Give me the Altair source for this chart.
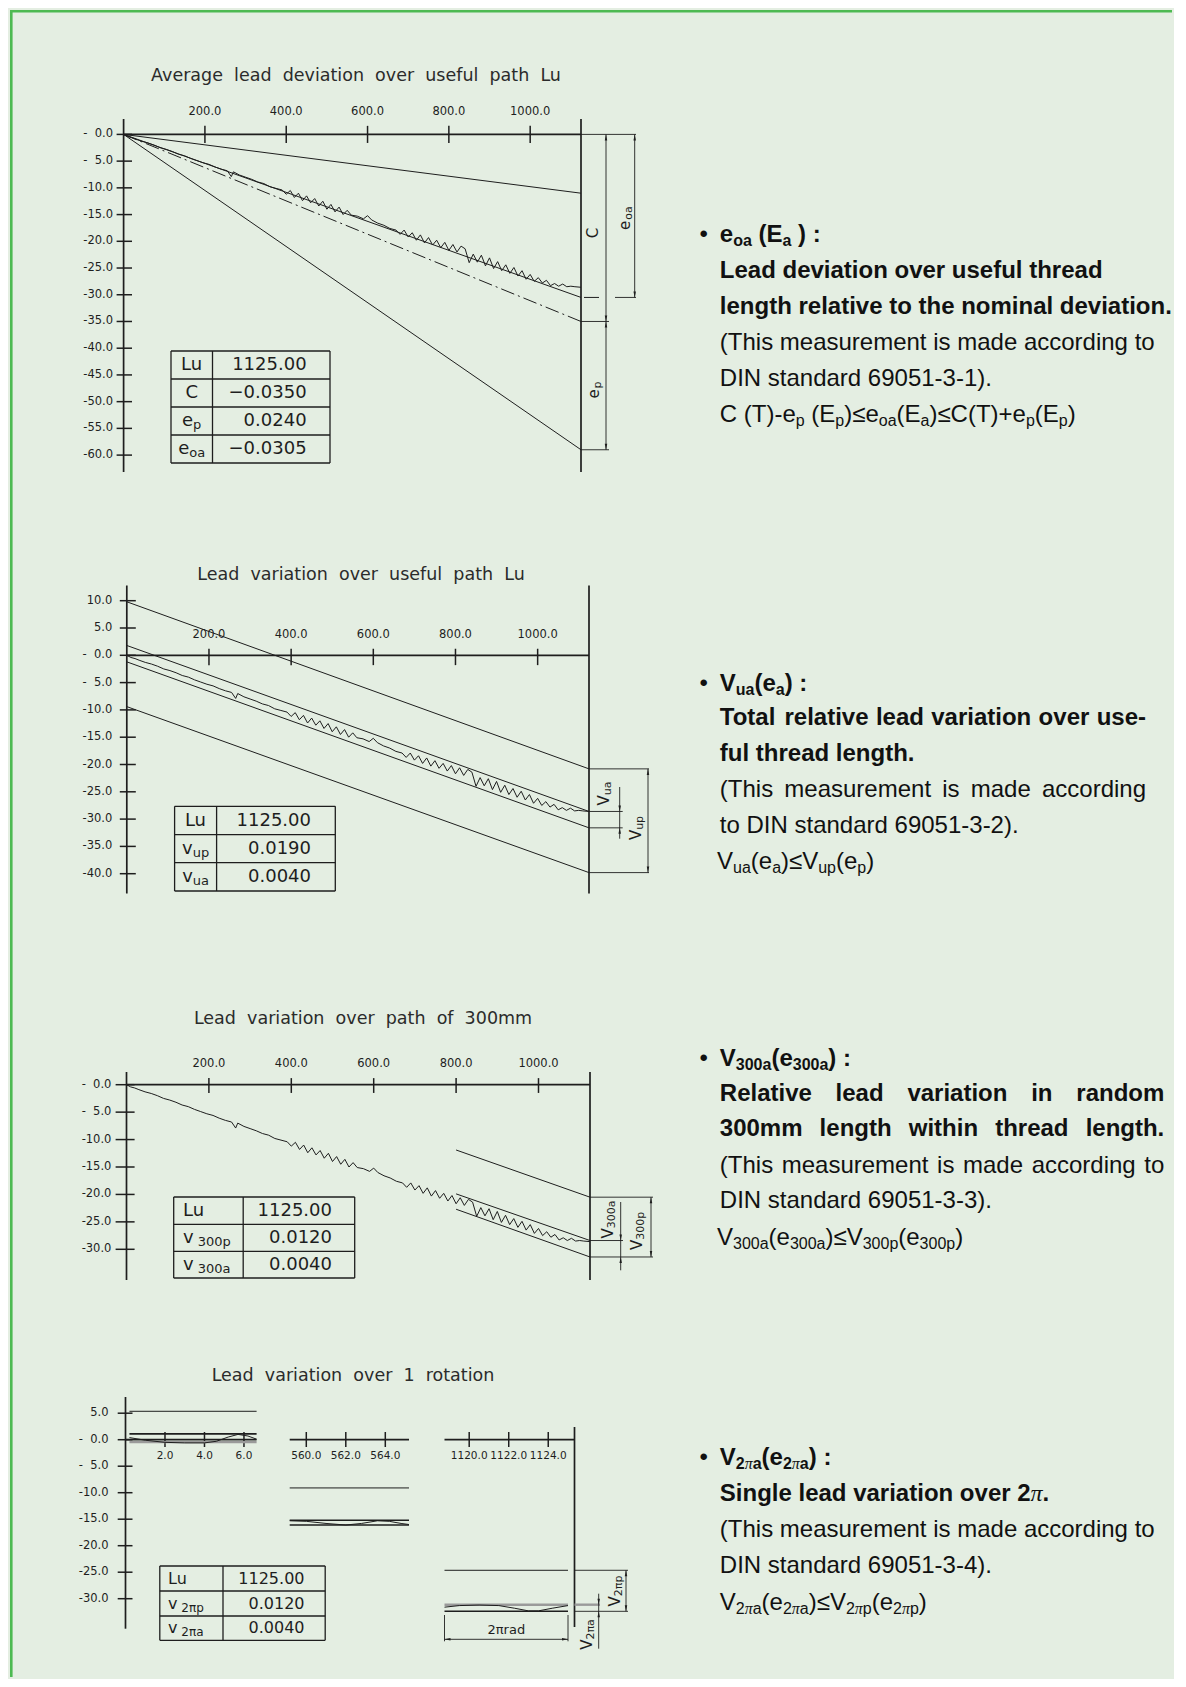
import altair as alt
import pandas as pd

# ---------------------------------------------------------------
# DATA
# ---------------------------------------------------------------
LU = 1125.0  # useful path, mm

# measured cumulative lead deviation (µm) over the thread (mm)
MEAS_X = [0, 10, 20, 30, 45, 60, 75, 90, 105, 120,
          135, 150, 165, 180, 195, 210, 225, 240, 255, 265,
          270, 285, 300, 315, 330, 345, 360, 375, 390, 400,
          410, 420, 430, 440, 450, 460, 470, 480, 490, 500,
          510, 520, 530, 540, 550, 560, 575, 590, 600, 610,
          625, 640, 655, 670, 680, 690, 700, 710, 720, 730,
          740, 750, 760, 770, 780, 790, 800, 810, 820, 830,
          840, 850, 860, 870, 880, 890, 900, 910, 920, 930,
          940, 950, 960, 970, 980, 990, 1000, 1010, 1020, 1030,
          1040, 1050, 1060, 1070, 1080, 1090, 1100, 1110, 1125]
MEAS_Y = [0, -0.4, -0.6, -0.9, -1.3, -1.6, -2.0, -2.5, -2.8, -3.2,
          -3.7, -4.0, -4.5, -4.9, -5.3, -5.6, -6.1, -6.5, -6.8, -7.9,
          -7.0, -7.6, -8.0, -8.4, -8.9, -9.2, -9.8, -10.1, -10.4, -11.2,
          -10.5, -11.8, -11.0, -12.4, -11.5, -12.8, -12.0, -13.4, -12.5, -14.0,
          -13.1, -14.5, -13.6, -15.0, -14.2, -15.1, -15.3, -15.8, -15.2, -16.0,
          -16.6, -17.0, -17.6, -17.9, -18.7, -17.9, -19.2, -18.4, -19.8, -18.8,
          -20.3, -19.3, -20.7, -19.8, -21.2, -20.2, -21.7, -20.6, -22.0, -20.9,
          -21.4, -24.0, -22.4, -23.9, -22.6, -24.6, -23.1, -25.1, -23.8, -25.5,
          -24.4, -26.0, -24.9, -26.5, -25.5, -27.1, -26.2, -27.5, -26.8, -27.8,
          -27.3, -28.3, -27.9, -28.4, -28.0, -28.5, -28.4, -28.5, -28.6]

# Panel 1 : average lead deviation
P1_TITLE = "Average lead deviation over useful path Lu"
P1_C, P1_EP, P1_EOA = -0.0350, 0.0240, -0.0305          # mm
P1_TAB_LABELS = [[("Lu", 0)], [("C", 0)], [("e", 0), ("p", 1)], [("e", 0), ("oa", 1)]]
P1_TAB_VALUES = ["1125.00", "\u22120.0350", "0.0240", "\u22120.0305"]
P1_XTICKS = [200, 400, 600, 800, 1000]
P1_YTICKS = [0, -5, -10, -15, -20, -25, -30, -35, -40, -45, -50, -55, -60]

# Panel 2 : lead variation over useful path
P2_TITLE = "Lead variation over useful path Lu"
P2_LINE_START = [9.8, -9.4, 1.8, -1.2]      # vup upper, vup lower, vua upper, vua lower
P2_LINE_END = [-20.8, -39.8, -28.6, -31.6]
P2_TAB_LABELS = [[("Lu", 0)], [("v", 0), ("up", 1)], [("v", 0), ("ua", 1)]]
P2_TAB_VALUES = ["1125.00", "0.0190", "0.0040"]
P2_XTICKS = [200, 400, 600, 800, 1000]
P2_YTICKS = [10, 5, 0, -5, -10, -15, -20, -25, -30, -35, -40]

# Panel 3 : lead variation over 300 mm
P3_TITLE = "Lead variation over path of 300mm"
P3_WIN_START = 800.0
P3_LINE_START = [-11.9, -19.9, -22.7]       # v300p upper, v300a upper, v300a lower
P3_LINE_END = [-20.5, -28.4, -31.4]
P3_TAB_LABELS = [[("Lu", 0)], [("v", 0), (" 300p", 1)], [("v", 0), (" 300a", 1)]]
P3_TAB_VALUES = ["1125.00", "0.0120", "0.0040"]
P3_XTICKS = [200, 400, 600, 800, 1000]
P3_YTICKS = [0, -5, -10, -15, -20, -25, -30]

# Panel 4 : lead variation over one rotation
P4_TITLE = "Lead variation over 1 rotation"
P4_SEG_START = [0.2, 559.16, 1118.75]
P4_SEG_END = [6.64, 565.2, 1125.0]
P4_TOP = [5.36, -9.1, -24.64]
P4_HI = [1.1, -15.2, -31.13]
P4_LO = [-0.45, -16.1, -32.38]
P4_W1_X = [0.2, 1.0, 2.0, 3.0, 4.0, 4.6, 5.2, 5.7, 6.2, 6.64]
P4_W1_Y = [0.4, -0.1, -0.5, -0.6, -0.6, -0.3, 0.5, 1.0, 0.7, 0.1]
P4_W2_X = [559.16, 560.0, 561.0, 562.0, 562.8, 563.6, 564.2, 564.8, 565.2]
P4_W2_Y = [-15.3, -15.4, -15.8, -16.1, -15.8, -15.3, -15.4, -15.8, -16.0]
P4_W3_X = [1118.75, 1119.5, 1120.5, 1121.5, 1122.3, 1123.0, 1123.5, 1124.2, 1125.0]
P4_W3_Y = [-31.6, -31.3, -31.2, -31.3, -31.8, -32.3, -32.3, -31.8, -31.3]
P4_TAB_LABELS = [[("Lu", 0)], [("v", 0), (" 2\u03c0p", 1)], [("v", 0), (" 2\u03c0a", 1)]]
P4_TAB_VALUES = ["1125.00", "0.0120", "0.0040"]
P4_XTICKS = [2, 4, 6, 560, 562, 564, 1120, 1122, 1124]
P4_YTICKS = [5, 0, -5, -10, -15, -20, -25, -30]

# ---------------------------------------------------------------
# styling / layout
# ---------------------------------------------------------------
BG = "#e4eee2"
BORDER = "#4dba52"
INK = "#1e1e1e"
CAD = "DejaVu Sans"
SANS = "Liberation Sans"
SERIF = "Liberation Serif"

PLOT_W = 672
TEXT_W = 490
ROW_TOP = [8, 505, 935, 1300]
ROW_H = [497, 430, 365, 375]

# glyph widths (1/1000 em)
DJ = {c: 636 for c in "0123456789"}
DJ.update({'.': 318, ' ': 318, '\u00a0': 318, '-': 361, '\u2212': 838, '\u2007': 636,
           'L': 557, 'C': 698, 'V': 684, 'u': 634, 'e': 615, 'p': 635, 'o': 612,
           'a': 613, 'v': 592, 'r': 411, 'd': 635, '\u03c0': 602})

UP = "ABCDEFGHIJKLMNOPQRSTUVWXYZ"
LO = "abcdefghijklmnopqrstuvwxyz"
AR = dict(zip(UP, [667, 667, 722, 722, 667, 611, 778, 722, 278, 500, 667, 556, 833, 722, 778,
                   667, 778, 722, 667, 611, 722, 667, 944, 667, 667, 611]))
AR.update(zip(LO, [556, 556, 500, 556, 556, 278, 556, 556, 222, 222, 500, 222, 833, 556, 556,
                   556, 556, 333, 500, 278, 556, 500, 722, 500, 500, 500]))
AB = dict(zip(UP, [722, 722, 722, 722, 667, 611, 778, 722, 278, 556, 722, 611, 833, 722, 778,
                   667, 778, 722, 667, 611, 722, 667, 944, 667, 667, 611]))
AB.update(zip(LO, [556, 611, 556, 611, 556, 333, 611, 611, 278, 278, 556, 278, 889, 611, 611,
                   611, 611, 389, 556, 333, 611, 556, 778, 556, 556, 500]))
for tab, colon in ((AR, 278), (AB, 333)):
    tab.update({c: 556 for c in "0123456789"})
    tab.update({' ': 278, '\u00a0': 278, '(': 333, ')': 333, '-': 333, '.': 278, ',': 278,
                ':': colon, '+': 584, '\u2264': 549, '\u2022': 350})
TI = {'\u03c0': 500}


def djw(s, size):
    return sum(DJ.get(c, 620) for c in s) * size / 1000.0


def interp(v, xs, ys):
    n = len(xs)
    if v <= xs[0]:
        i = 0
    elif v >= xs[-1]:
        i = n - 2
    else:
        i = 0
        while not (xs[i] <= v <= xs[i + 1]):
            i += 1
    return ys[i] + (v - xs[i]) * (ys[i + 1] - ys[i]) / (xs[i + 1] - xs[i])


def nb(s):
    return s.replace(" ", "\u00a0")


def ylab(v):
    if v > 0:
        return f"{v:.1f}"
    a = abs(v)
    return "-" + ("\u2007" if a < 10 else "") + f"{a:.1f}"


class Panel:
    def __init__(self, xd, xr, yd, yr, top, h, tab_size, tab_sub, xt_size=11.5):
        self.xd, self.xr, self.yd, self.yr = xd, xr, yd, yr
        self.top, self.h = top, h
        self.tab_size, self.tab_sub, self.xt_size = tab_size, tab_sub, xt_size
        self.rules, self.arrows, self.texts, self.curves = [], [], [], []

    def X(self, p):
        return interp(p, self.xr, self.xd)

    def Y(self, p):
        return interp(p, self.yr, self.yd)

    def rule(self, x, y, x2, y2, k="thin"):
        self.rules.append(dict(x=x, y=y, x2=x2, y2=y2, k=k))

    def arrow(self, x, y, d):
        self.arrows.append(dict(x=x, y=y, d=d))

    def text(self, x, y, t, k):
        self.texts.append(dict(x=x, y=y, t=nb(t), k=k))

    def curve(self, xs, ys, name):
        for i, (a, b) in enumerate(zip(xs, ys)):
            self.curves.append(dict(x=a, y=b, s=name, o=i))


def axes(P, xticks, yticks, ax_top, ax_bot, yt0, yt1, xt_hi, xt_lo, ylab_right, xlab_y,
         xsegs, right_x, right_top, right_bot):
    for a, b in xsegs:
        P.rule(a, 0, b, 0, "axis")
    P.rule(0, P.Y(ax_top), 0, P.Y(ax_bot), "axis")
    P.rule(right_x, P.Y(right_top), right_x, P.Y(right_bot), "axis")
    for t in xticks:
        P.rule(t, xt_hi, t, xt_lo, "tick")
        P.text(t, P.Y(xlab_y), f"{t:.1f}", "xt")
    for v in yticks:
        P.rule(P.X(yt0), v, P.X(yt1), v, "tick")
        P.text(P.X(ylab_right), v, ylab(v), "yt")


def title(P, cx, cy, s):
    P.text(P.X(cx), P.Y(cy), s.replace(" ", "\u00a0\u00a0"), "title")


def table(P, xl, xdiv, xr, ys, labels, values, mode, lab_x, val_x):
    for yy in ys:
        P.rule(P.X(xl), P.Y(yy), P.X(xr), P.Y(yy), "tab")
    for xx in (xl, xdiv, xr):
        P.rule(P.X(xx), P.Y(ys[0]), P.X(xx), P.Y(ys[-1]), "tab")
    for i, (lab, val) in enumerate(zip(labels, values)):
        yc = (ys[i] + ys[i + 1]) / 2
        ws = [djw(t, P.tab_sub if s else P.tab_size) for t, s in lab]
        x = lab_x - sum(ws) / 2 if mode == "c" else lab_x
        for (t, s), w in zip(lab, ws):
            size = P.tab_sub if s else P.tab_size
            lead = len(t) - len(t.lstrip(" "))
            P.text(P.X(x + djw(" " * lead, size)), P.Y(yc + (4 if s else 0)), t.strip(" "),
                   "tabs" if s else "tab")
            x += w
        P.text(P.X(val_x), P.Y(yc), val, "val")


def rot_label(P, cx, cy, segs, size=15, sub=11):
    ws = [djw(t, sub if s else size) for t, s in segs]
    yb = cy + sum(ws) / 2
    acc = 0
    for (t, s), w in zip(segs, ws):
        yc = yb - acc - w / 2
        xc = cx + (3 if s else -1)
        P.text(P.X(xc), P.Y(yc), t, "dims" if s else "dim")
        acc += w


def vdim(P, x, y_from, y_to):
    """dimension line between two values with inward arrows (y_from above y_to)"""
    P.rule(x, y_from, x, y_to, "dim")
    P.arrow(x, y_from, "up")
    P.arrow(x, y_to, "down")


# ---------------------------------------------------------------
# Panel 1
# ---------------------------------------------------------------
p1 = Panel([0, LU], [121.6, 579.0], [0, -60], [132.4, 453.1], ROW_TOP[0], ROW_H[0], 18, 13)
axes(p1, P1_XTICKS, P1_YTICKS, 117, 470, 114.6, 130, 1.6, -1.6, 111, 110,
     [(0, LU)], LU, 117, 470)
title(p1, 354, 74, P1_TITLE)
c_um, ep_um, eoa_um = P1_C * 1000, P1_EP * 1000, P1_EOA * 1000
p1.rule(0, 0, LU, c_um + ep_um, "thin")
p1.rule(0, 0, LU, eoa_um, "thin")
p1.rule(0, 0, LU, c_um - ep_um, "thin")
p1.rule(0, 0, LU, c_um, "dashdot")
p1.curve(MEAS_X, MEAS_Y, "measured")
xc, xe, xend, xshort = p1.X(604), p1.X(632.7), p1.X(634), p1.X(607)
p1.rule(LU, 0, xend, 0, "dim")
p1.rule(LU, c_um, xshort, c_um, "dim")
p1.rule(LU, c_um - ep_um, xshort, c_um - ep_um, "dim")
p1.rule(p1.X(613), eoa_um, xend, eoa_um, "dim")
p1.rule(p1.X(582), eoa_um, p1.X(597), eoa_um, "thin")
vdim(p1, xc, 0, c_um)
vdim(p1, xc, c_um, c_um - ep_um)
vdim(p1, xe, 0, eoa_um)
rot_label(p1, 592, 231, [("C", 0)], 16, 12)
rot_label(p1, 593, 388, [("e", 0), ("p", 1)], 16, 12)
rot_label(p1, 624, 216, [("e", 0), ("oa", 1)], 16, 12)
table(p1, 169, 210.5, 328, [349, 377, 405, 433, 461], P1_TAB_LABELS, P1_TAB_VALUES, "c", 189.7, 304.6)

# ---------------------------------------------------------------
# Panel 2
# ---------------------------------------------------------------
p2 = Panel([0, LU], [124.8, 587.0], [0, -40], [653.3, 871.7], ROW_TOP[1], ROW_H[1], 18, 13)
axes(p2, P2_XTICKS, P2_YTICKS, 583.5, 891.5, 117.8, 133.8, 1.2, -1.8, 110.3, 632.8,
     [(0, LU)], LU, 583.5, 891.5)
title(p2, 359, 572.5, P2_TITLE)
for a, b in zip(P2_LINE_START, P2_LINE_END):
    p2.rule(0, a, LU, b, "thin")
p2.curve(MEAS_X, MEAS_Y, "measured")
top2, bot2, hi2, lo2 = P2_LINE_END
p2.rule(LU, top2, p2.X(647), top2, "dim")
p2.rule(LU, bot2, p2.X(647), bot2, "dim")
vdim(p2, p2.X(646), top2, bot2)
p2.rule(LU, hi2, p2.X(620.7), hi2, "dim")
p2.rule(LU, lo2, p2.X(620.7), lo2, "dim")
xv = p2.X(617.7)
p2.rule(xv, p2.Y(785), xv, p2.Y(836.7), "dim")
p2.arrow(xv, hi2, "down")
p2.arrow(xv, lo2, "up")
rot_label(p2, 603, 791.5, [("V", 0), ("ua", 1)])
rot_label(p2, 635, 826, [("V", 0), ("up", 1)])
table(p2, 172.6, 214.6, 333.3, [804.3, 832.7, 860.7, 889], P2_TAB_LABELS, P2_TAB_VALUES, "c", 193.6, 309)

# ---------------------------------------------------------------
# Panel 3
# ---------------------------------------------------------------
p3 = Panel([0, LU], [124.5, 588.0], [0, -30], [1082.7, 1247.3], ROW_TOP[2], ROW_H[2], 18, 13)
axes(p3, P3_XTICKS, P3_YTICKS, 1070, 1278, 113.6, 132.6, 1.2, -1.5, 109.4, 1062.2,
     [(0, LU)], LU, 1070, 1278)
title(p3, 361, 1017, P3_TITLE)
for a, b in zip(P3_LINE_START, P3_LINE_END):
    p3.rule(P3_WIN_START, a, LU, b, "thin")
p3.curve(MEAS_X, MEAS_Y, "measured")
top3, hi3, lo3 = P3_LINE_END
p3.rule(LU, top3, p3.X(651), top3, "dim")
p3.rule(LU, lo3, p3.X(651), lo3, "dim")
vdim(p3, p3.X(649), top3, lo3)
p3.rule(LU, hi3, p3.X(621), hi3, "dim")
xv = p3.X(618.7)
p3.rule(xv, p3.Y(1200), xv, p3.Y(1268.3), "dim")
p3.arrow(xv, hi3, "down")
p3.arrow(xv, lo3, "up")
rot_label(p3, 606.7, 1217.5, [("V", 0), ("300a", 1)])
rot_label(p3, 636, 1229, [("V", 0), ("300p", 1)])
table(p3, 171.7, 241.2, 352.7, [1195, 1222.3, 1249.3, 1276], P3_TAB_LABELS, P3_TAB_VALUES, "l", 181, 330)

# ---------------------------------------------------------------
# Panel 4 (piece-wise x scale: three short windows)
# ---------------------------------------------------------------
p4 = Panel([0, 6.64, 559.16, 565.2, 1118.75, 1125.0],
           [123.5, 254.6, 287.7, 407.0, 442.5, 566.0],
           [0, -30], [1437.7, 1596.7], ROW_TOP[3], ROW_H[3], 16, 12, 10.5)
right4 = p4.X(572.5)
axes(p4, P4_XTICKS, P4_YTICKS, 1395, 1626.7, 115.7, 130.5, 1.45, -1.38, 106.5, 1454.3,
     [(0, P4_SEG_END[0]), (P4_SEG_START[1], P4_SEG_END[1]), (P4_SEG_START[2], right4)],
     right4, 1425, 1625)
title(p4, 351, 1374, P4_TITLE)
for a, b, t, h, l in zip(P4_SEG_START, P4_SEG_END, P4_TOP, P4_HI, P4_LO):
    p4.rule(a, t, b, t, "thin")
    p4.rule(a, h, b, h, "gray" if h < -30 else "med")
    p4.rule(a, l, b, l, "gray" if l > -1 else "med")
p4.curve(P4_W1_X, P4_W1_Y, "w1")
p4.curve(P4_W2_X, P4_W2_Y, "w2")
p4.curve(P4_W3_X, P4_W3_Y, "w3")
top4, hi4, lo4 = P4_TOP[2], P4_HI[2], P4_LO[2]
p4.rule(right4, top4, p4.X(626), top4, "dim")
p4.rule(right4, lo4, p4.X(626), lo4, "dim")
vdim(p4, p4.X(624), top4, lo4)
p4.rule(right4, hi4, p4.X(598), hi4, "gray")
xv = p4.X(596.7)
p4.rule(xv, p4.Y(1591.7), xv, p4.Y(1646.7), "dim")
p4.arrow(xv, hi4, "down")
p4.arrow(xv, lo4, "up")
xa, xb = P4_SEG_START[2], P4_SEG_END[2]
for xx in (xa, xb):
    p4.rule(xx, p4.Y(1613), xx, p4.Y(1639.3), "dim")
yd = p4.Y(1637.3)
p4.rule(xa, yd, xb, yd, "dim")
p4.arrow(xa, yd, "left")
p4.arrow(xb, yd, "right")
p4.text(p4.X(504.3), p4.Y(1628.3), "2\u03c0rad", "lbl")
rot_label(p4, 586, 1632.5, [("V", 0), ("2\u03c0a", 1)])
rot_label(p4, 614, 1589, [("V", 0), ("2\u03c0p", 1)])
table(p4, 157.8, 221, 323.2, [1564, 1589, 1614, 1638.3], P4_TAB_LABELS, P4_TAB_VALUES, "l", 166, 302.5)

# ---------------------------------------------------------------
# chart builders
# ---------------------------------------------------------------
RULE_STYLE = {
    "axis": (1.7, INK, None),
    "tick": (1.5, INK, None),
    "thin": (1.0, INK, None),
    "med": (1.6, INK, None),
    "gray": (2.4, "#9a9a9a", None),
    "dim": (0.9, INK, None),
    "tab": (1.3, INK, None),
    "dashdot": (1.0, INK, [14, 4, 2, 4]),
}
ARROW_PATH = {
    "up": "M0,0L0.45,2.2L-0.45,2.2Z",
    "down": "M0,0L0.45,-2.2L-0.45,-2.2Z",
    "left": "M0,0L2.2,0.45L2.2,-0.45Z",
    "right": "M0,0L-2.2,0.45L-2.2,-0.45Z",
}


def text_kinds(P):
    return {
        "title": dict(fontSize=17.5, align="center", color="#2b2b2b"),
        "xt": dict(fontSize=P.xt_size, align="center"),
        "yt": dict(fontSize=11.5, align="right"),
        "tab": dict(fontSize=P.tab_size, align="left"),
        "tabs": dict(fontSize=P.tab_sub, align="left"),
        "val": dict(fontSize=P.tab_size, align="right"),
        "dim": dict(fontSize=15, align="center", angle=270),
        "dims": dict(fontSize=11, align="center", angle=270),
        "lbl": dict(fontSize=13, align="center"),
    }


def build_plot(P, row):
    xs = alt.Scale(domain=P.xd, range=[v - 8 for v in P.xr], nice=False, zero=False)
    ys = alt.Scale(domain=P.yd, range=[v - P.top for v in P.yr], nice=False, zero=False)
    ex = alt.X("x:Q", scale=xs, axis=None)
    ey = alt.Y("y:Q", scale=ys, axis=None)
    layers = []
    R = pd.DataFrame(P.rules)
    for k, (sw, col, dash) in RULE_STYLE.items():
        d = R[R.k == k]
        if len(d) == 0:
            continue
        kw = dict(strokeWidth=sw, color=col)
        if dash:
            kw["strokeDash"] = dash
        layers.append(alt.Chart(d).mark_rule(**kw).encode(
            x=ex, y=ey, x2=alt.X2("x2"), y2=alt.Y2("y2")))
    C = pd.DataFrame(P.curves)
    layers.append(alt.Chart(C).mark_line(strokeWidth=1.0, color=INK).encode(
        x=ex, y=ey, detail="s:N", order="o:Q"))
    A = pd.DataFrame(P.arrows)
    for d_, path in ARROW_PATH.items():
        d = A[A.d == d_]
        if len(d) == 0:
            continue
        layers.append(alt.Chart(d).mark_point(shape=path, filled=True, size=30, color=INK,
                                              opacity=1, strokeWidth=0).encode(x=ex, y=ey))
    T = pd.DataFrame(P.texts)
    for k, props in text_kinds(P).items():
        d = T[T.k == k]
        if len(d) == 0:
            continue
        kw = dict(font=CAD, baseline="middle", color=INK)
        kw.update(props)
        layers.append(alt.Chart(d).mark_text(**kw).encode(x=ex, y=ey, text="t:N"))
    # page border (left, and top on first row)
    one = pd.DataFrame({"a": [0]})
    layers.append(alt.Chart(one).mark_rule(color=BORDER, strokeWidth=2.6).encode(
        x=alt.value(1.3), y=alt.value(0), y2=alt.value(P.h)))
    if row == 0:
        layers.append(alt.Chart(one).mark_rule(color=BORDER, strokeWidth=2.6).encode(
            x=alt.value(0), x2=alt.value(PLOT_W), y=alt.value(1.3)))
    return alt.layer(*layers).properties(width=PLOT_W, height=P.h)


# ---------------------------------------------------------------
# right-hand explanatory text
# ---------------------------------------------------------------
STY = {
    "r": dict(font=SANS, size=24, weight="normal", style="normal", dy=0, tab=AR),
    "b": dict(font=SANS, size=24, weight="bold", style="normal", dy=0, tab=AB),
    "rs": dict(font=SANS, size=16, weight="normal", style="normal", dy=6, tab=AR),
    "bs": dict(font=SANS, size=16, weight="bold", style="normal", dy=6, tab=AB),
    "pi": dict(font=SERIF, size=24, weight="normal", style="italic", dy=0, tab=TI),
    "pis": dict(font=SERIF, size=16, weight="normal", style="italic", dy=6, tab=TI),
}


def tw(s, st):
    p = STY[st]
    return sum(p["tab"].get(c, 556) for c in s) * p["size"] / 1000.0


def layout(lines):
    rows = []
    for y, x0, segs, just, bullet in lines:
        if bullet:
            rows.append(dict(x=17.5, y=y, t="\u2022", s="r"))
        if just and len(segs) == 1:
            txt, st = segs[0]
            words = txt.split(" ")
            ws = [tw(w, st) for w in words]
            gap = (just - x0 - sum(ws)) / (len(words) - 1)
            x = x0
            for w, wd in zip(words, ws):
                rows.append(dict(x=x, y=y, t=w, s=st))
                x += wd + gap
        else:
            x = x0
            for txt, st in segs:
                lead = len(txt) - len(txt.lstrip(" "))
                body = txt.strip(" ")
                if body:
                    rows.append(dict(x=x + tw(" " * lead, st), y=y, t=nb(body), s=st))
                x += tw(txt, st)
    return rows


TX = 37.8
PI = "\u03c0"
TEXT1 = [
    (225, TX, [("e", "b"), ("oa", "bs"), (" (E", "b"), ("a", "bs"), (" ) :", "b")], None, True),
    (260.5, TX, [("Lead deviation over useful thread", "b")], None, False),
    (296.5, TX, [("length relative to the nominal deviation.", "b")], None, False),
    (332.5, TX, [("(This measurement is made according to", "r")], None, False),
    (368.7, TX, [("DIN standard 69051-3-1).", "r")], None, False),
    (405, TX, [("C (T)-e", "r"), ("p", "rs"), (" (E", "r"), ("p", "rs"), (")\u2264e", "r"),
               ("oa", "rs"), ("(E", "r"), ("a", "rs"), (")\u2264C(T)+e", "r"), ("p", "rs"),
               ("(E", "r"), ("p", "rs"), (")", "r")], None, False),
]
TEXT2 = [
    (177, TX, [("V", "b"), ("ua", "bs"), ("(e", "b"), ("a", "bs"), (") :", "b")], None, True),
    (211.3, TX, [("Total relative lead variation over use-", "b")], 464, False),
    (247, TX, [("ful thread length.", "b")], None, False),
    (283.3, TX, [("(This measurement is made according", "r")], 464, False),
    (318.9, TX, [("to DIN standard 69051-3-2).", "r")], None, False),
    (354.7, 35, [("V", "r"), ("ua", "rs"), ("(e", "r"), ("a", "rs"), (")\u2264V", "r"),
                 ("up", "rs"), ("(e", "r"), ("p", "rs"), (")", "r")], None, False),
]
TEXT3 = [
    (122, TX, [("V", "b"), ("300a", "bs"), ("(e", "b"), ("300a", "bs"), (") :", "b")], None, True),
    (157, TX, [("Relative lead variation in random", "b")], 482.3, False),
    (192.3, TX, [("300mm length within thread length.", "b")], 482.3, False),
    (228.9, TX, [("(This measurement is made according to", "r")], 482.3, False),
    (264.2, TX, [("DIN standard 69051-3-3).", "r")], None, False),
    (300.5, 35, [("V", "r"), ("300a", "rs"), ("(e", "r"), ("300a", "rs"), (")\u2264V", "r"),
                 ("300p", "rs"), ("(e", "r"), ("300p", "rs"), (")", "r")], None, False),
]
TEXT4 = [
    (155.5, TX, [("V", "b"), ("2", "bs"), (PI, "pis"), ("a", "bs"), ("(e", "b"), ("2", "bs"),
                 (PI, "pis"), ("a", "bs"), (") :", "b")], None, True),
    (191.7, TX, [("Single lead variation over 2", "b"), (PI, "pi"), (".", "b")], None, False),
    (228.3, TX, [("(This measurement is made according to", "r")], None, False),
    (264.4, TX, [("DIN standard 69051-3-4).", "r")], None, False),
    (301, TX, [("V", "r"), ("2", "rs"), (PI, "pis"), ("a", "rs"), ("(e", "r"), ("2", "rs"),
               (PI, "pis"), ("a", "rs"), (")\u2264V", "r"), ("2", "rs"), (PI, "pis"),
               ("p", "rs"), ("(e", "r"), ("2", "rs"), (PI, "pis"), ("p", "rs"), (")", "r")],
     None, False),
]


def build_text(lines, h, row):
    xs = alt.Scale(domain=[0, TEXT_W], range=[0, TEXT_W], nice=False, zero=False)
    ys = alt.Scale(domain=[0, h], range=[0, h], nice=False, zero=False)
    ex = alt.X("x:Q", scale=xs, axis=None)
    ey = alt.Y("y:Q", scale=ys, axis=None)
    df = pd.DataFrame(layout(lines))
    layers = []
    for st, p in STY.items():
        d = df[df.s == st]
        if len(d) == 0:
            continue
        kw = dict(font=p["font"], fontSize=p["size"], fontWeight=p["weight"],
                  fontStyle=p["style"], align="left", baseline="middle", color="#111111")
        if p["dy"]:
            kw["dy"] = p["dy"]
        layers.append(alt.Chart(d).mark_text(**kw).encode(x=ex, y=ey, text="t:N"))
    if row == 0:
        one = pd.DataFrame({"a": [0]})
        layers.append(alt.Chart(one).mark_rule(color=BORDER, strokeWidth=2.6).encode(
            x=alt.value(0), x2=alt.value(TEXT_W), y=alt.value(1.3)))
    return alt.layer(*layers).properties(width=TEXT_W, height=h)


cells = []
for i, (P, T) in enumerate(zip([p1, p2, p3, p4], [TEXT1, TEXT2, TEXT3, TEXT4])):
    cells.append(build_plot(P, i))
    cells.append(build_text(T, ROW_H[i], i))

chart = alt.concat(*cells, columns=2, spacing=0, bounds="flush").properties(
    background=BG, padding=0
).configure_view(stroke=None)

chart.save("out.html", embed_options={"renderer": "svg", "actions": False})
